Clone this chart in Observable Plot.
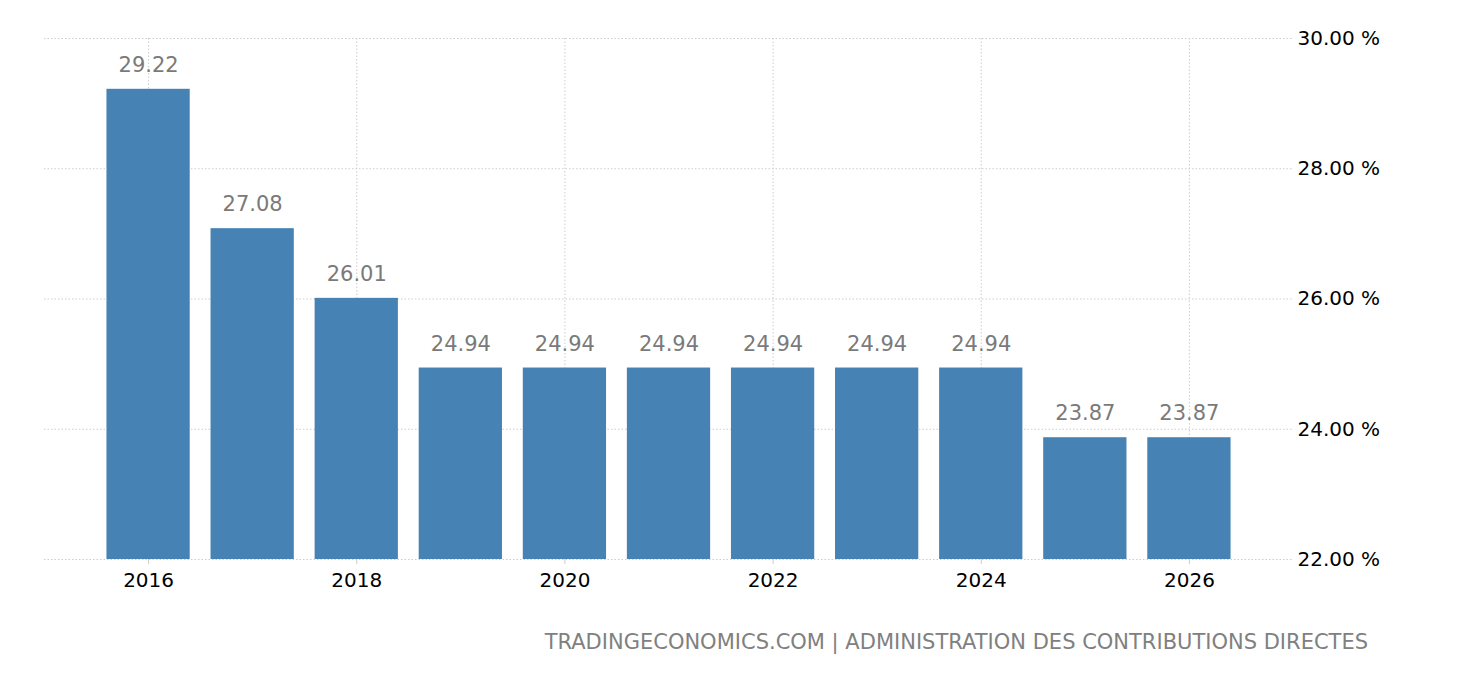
<!DOCTYPE html>
<html>
<head>
<meta charset="utf-8">
<script src="https://cdn.jsdelivr.net/npm/d3@7"></script>
<script src="https://cdn.jsdelivr.net/npm/@observablehq/plot@0.6"></script>
<style>
  html, body { margin: 0; padding: 0; background: #fff; }
  #chart { width: 1460px; }
  #caption {
    width: 1460px; box-sizing: border-box; text-align: right; padding-right: 92px;
    margin-top: 30px; font-family: "DejaVu Sans", sans-serif; font-size: 21px;
    line-height: 24px; color: #808080;
  }
</style>
</head>
<body>
<div id="chart"></div>
<div id="caption">TRADINGECONOMICS.COM | ADMINISTRATION DES CONTRIBUTIONS DIRECTES</div>
<script>
const years = [2016, 2017, 2018, 2019, 2020, 2021, 2022, 2023, 2024, 2025, 2026];
const values = [29.22, 27.08, 26.01, 24.94, 24.94, 24.94, 24.94, 24.94, 24.94, 23.87, 23.87];
const xTicks = [2016, 2018, 2020, 2022, 2024, 2026];
const yTicks = [22, 24, 26, 28, 30];

const data = years.map((year, i) => ({year, value: values[i]}));

const chart = Plot.plot({
  width: 1460,
  height: 600,
  marginTop: 38,
  marginBottom: 41,
  marginLeft: 44,
  marginRight: 167,
  style: {fontFamily: "DejaVu Sans, sans-serif", fontSize: "20px", color: "#000", background: "#fff"},
  x: {domain: [2015, 2027], label: null},
  y: {domain: [22, 30], label: null},
  marks: [
    Plot.gridY(yTicks, {stroke: "#cccccc", strokeOpacity: 1, strokeDasharray: "1.5,2"}),
    Plot.gridX(xTicks, {stroke: "#cccccc", strokeOpacity: 1, strokeDasharray: "1.5,2"}),
    Plot.rectY(data, {
      x1: d => d.year - 0.4,
      x2: d => d.year + 0.4,
      y1: () => 22,
      y2: "value",
      fill: "#4682b4"
    }),
    Plot.text(data, {
      x: "year", y: "value", text: d => d.value.toFixed(2),
      dy: -24, fill: "#7a7a7a", fontSize: 21
    }),
    Plot.axisX(xTicks, {
      label: null, tickSize: 5, tickPadding: 8, stroke: "#cccccc", fill: "#000",
      tickFormat: d => String(d), fontSize: 20
    }),
    Plot.axisY(yTicks, {
      label: null, anchor: "right", tickSize: 0, tickPadding: 4, fill: "#000",
      tickFormat: d => d.toFixed(2) + " %", fontSize: 20
    })
  ]
});
document.getElementById("chart").appendChild(chart);
</script>
</body>
</html>
